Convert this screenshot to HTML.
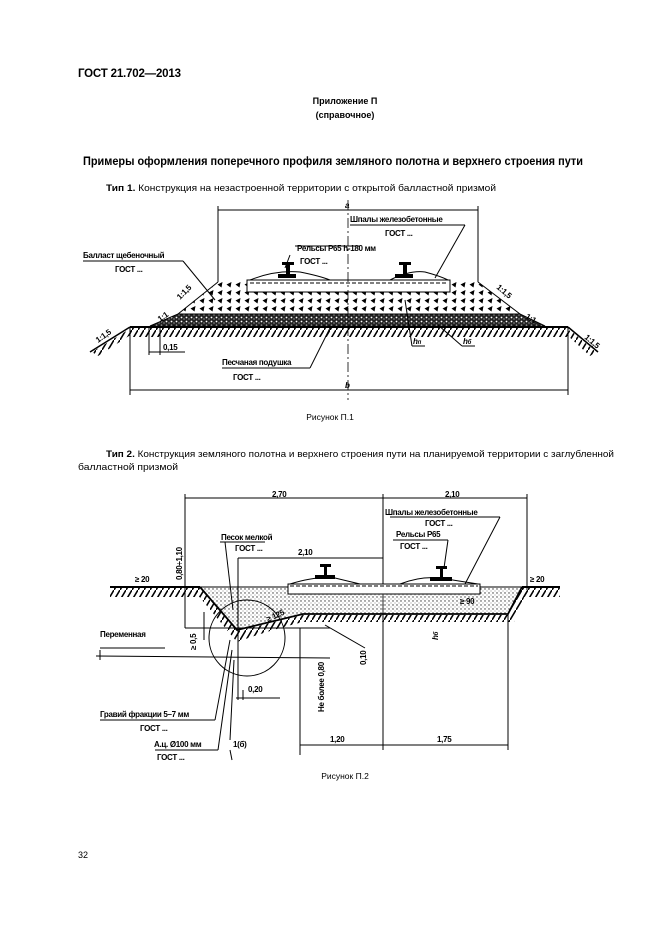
<!DOCTYPE html>
<html><head><meta charset="utf-8"><style>
html,body{margin:0;padding:0;background:#fff;}
svg{display:block;font-family:"Liberation Sans",sans-serif;}
.b{font-weight:bold;}
.s{font-size:8px;font-weight:bold;letter-spacing:-0.3px}
</style></head><body>
<svg width="661" height="936" viewBox="0 0 661 936" xmlns="http://www.w3.org/2000/svg">
<defs>
<pattern id="tri" width="9" height="8" patternUnits="userSpaceOnUse"><path d="M1.5 4.5 L6.5 2 L5.5 7.5 Z" fill="#000"/></pattern>
<pattern id="sand" width="5" height="4" patternUnits="userSpaceOnUse"><rect width="5" height="4" fill="#222"/><circle cx="1.5" cy="1.5" r="0.9" fill="#fff"/><circle cx="4" cy="3" r="0.6" fill="#ccc"/></pattern>
<pattern id="dots" width="4" height="4" patternUnits="userSpaceOnUse"><circle cx="1" cy="1" r="0.7" fill="#333"/><circle cx="3" cy="3" r="0.5" fill="#666"/></pattern>
<pattern id="hatch" width="6" height="10" patternUnits="userSpaceOnUse"><path d="M6 0 L0 10" stroke="#000" stroke-width="1.6"/></pattern>
</defs>
<text x="78" y="77" class="b" font-size="11.5" textLength="103">ГОСТ 21.702—2013</text>
<text x="345" y="104" class="b" font-size="9" text-anchor="middle">Приложение П</text>
<text x="345" y="118" class="b" font-size="9" text-anchor="middle">(справочное)</text>
<text x="83" y="165" class="b" font-size="11.5" textLength="500" lengthAdjust="spacingAndGlyphs">Примеры оформления поперечного профиля земляного полотна и верхнего строения пути</text>
<text x="106" y="191" font-size="9.5" textLength="390" lengthAdjust="spacingAndGlyphs"><tspan font-weight="bold">Тип 1.</tspan> Конструкция на незастроенной территории с открытой балластной призмой</text>

<!-- Figure 1 -->
<g stroke="#000" fill="none">
<line x1="218" y1="210" x2="478" y2="210"/>
<line x1="218" y1="206" x2="218" y2="282"/><line x1="478" y1="206" x2="478" y2="282"/>
<path d="M218 282 L478 282 L520 314 L178 314 Z" fill="url(#tri)" stroke="none"/>
<path d="M218 282 L178 314 M478 282 L520 314"/>
<path d="M178 314 L520 314 L545 326 L150 326 Z" fill="url(#sand)"/>
<rect x="130" y="327" width="438" height="10" fill="url(#hatch)" stroke="none"/>
<path d="M130 327 L568 327" stroke-width="2"/>
<path d="M130 327 L90 352" stroke-width="1.5"/><path d="M568 327 L598 352" stroke-width="1.5"/>
<path d="M128 330 L92 352 L98 356 L132 334 Z" fill="url(#hatch)" stroke="none"/>
<path d="M570 330 L596 352 L590 356 L566 334 Z" fill="url(#hatch)" stroke="none"/>
<rect x="247" y="280" width="203" height="12" fill="#fff"/>
<line x1="250" y1="283" x2="448" y2="283" stroke-dasharray="4 2"/>
<path d="M250 280 Q275 270 300 272 Q320 276 330 280 M390 280 Q410 270 425 272 Q440 276 448 280"/>
<line x1="348" y1="200" x2="348" y2="400" stroke-dasharray="10 3 2 3" stroke-width="0.8"/>
<line x1="130" y1="327" x2="130" y2="395"/><line x1="568" y1="327" x2="568" y2="395"/>
<line x1="130" y1="390" x2="568" y2="390"/>
<line x1="149" y1="328" x2="149" y2="355"/><line x1="160" y1="328" x2="160" y2="355"/>
<line x1="149" y1="352" x2="185" y2="352"/>
<line x1="83" y1="261" x2="183" y2="261"/><line x1="183" y1="261" x2="215" y2="300"/>
<line x1="295" y1="246" x2="360" y2="246"/><line x1="290" y1="255" x2="285" y2="268"/>
<line x1="350" y1="225" x2="465" y2="225"/><line x1="465" y1="225" x2="435" y2="278"/>
<line x1="222" y1="368" x2="310" y2="368"/><line x1="310" y1="368" x2="330" y2="328"/>
<line x1="412" y1="346" x2="425" y2="346"/><line x1="412" y1="346" x2="405" y2="300"/>
<line x1="462" y1="346" x2="475" y2="346"/><line x1="462" y1="346" x2="438" y2="325"/>
</g>
<g fill="#000">
<rect x="286" y="265" width="4" height="10"/><rect x="282" y="262" width="12" height="3"/><rect x="278" y="274" width="18" height="4"/>
<rect x="403" y="265" width="4" height="10"/><rect x="399" y="262" width="12" height="3"/><rect x="395" y="274" width="18" height="4"/>
</g>
<text x="345" y="208" class="s" font-style="italic">a</text>
<text x="350" y="222" class="s">Шпалы железобетонные</text><text x="385" y="236" class="s">ГОСТ ...</text>
<text x="297" y="251" class="s">Рельсы Р65 h-180 мм</text><text x="300" y="264" class="s">ГОСТ ...</text>
<text x="83" y="258" class="s">Балласт щебеночный</text><text x="115" y="272" class="s">ГОСТ ...</text>
<text x="222" y="365" class="s">Песчаная подушка</text><text x="233" y="380" class="s">ГОСТ ...</text>
<text x="163" y="350" class="s">0,15</text>
<text x="345" y="388" class="s" font-style="italic">b</text>
<text x="413" y="344" class="s" font-style="italic">h<tspan font-size="6">п</tspan></text>
<text x="463" y="344" class="s" font-style="italic">h<tspan font-size="6">б</tspan></text>
<text class="s" transform="translate(180,300) rotate(-45)">1:1,5</text>
<text class="s" transform="translate(160,322) rotate(-35)">1:1</text>
<text class="s" transform="translate(98,343) rotate(-35)">1:1,5</text>
<text class="s" transform="translate(496,288) rotate(40)">1:1,5</text>
<text class="s" transform="translate(525,318) rotate(30)">1:1</text>
<text class="s" transform="translate(584,338) rotate(40)">1:1,5</text>

<text x="330" y="420" font-size="8.5" text-anchor="middle">Рисунок П.1</text>

<text x="106" y="457" font-size="9.5" textLength="508" lengthAdjust="spacingAndGlyphs"><tspan font-weight="bold">Тип 2.</tspan> Конструкция земляного полотна и верхнего строения пути на планируемой территории с заглубленной</text>
<text x="78" y="470" font-size="9.5" textLength="100" lengthAdjust="spacingAndGlyphs">балластной призмой</text>

<!-- Figure 2 -->
<g stroke="#000" fill="none">
<line x1="185" y1="498" x2="527" y2="498"/>
<line x1="185" y1="494" x2="185" y2="628"/><line x1="383" y1="494" x2="383" y2="750"/><line x1="527" y1="494" x2="527" y2="590"/>
<path d="M200 587 L237 630 Q270 622 303 614 L508 614 L522 587 Z" fill="url(#dots)"/>
<rect x="110" y="588" width="90" height="9" fill="url(#hatch)" stroke="none"/>
<rect x="522" y="588" width="38" height="9" fill="url(#hatch)" stroke="none"/>
<path d="M200 588 L237 631 Q270 623 303 615 L508 615 L522 588 L528 588 L514 622 L303 622 Q270 630 237 642 L192 588 Z" fill="url(#hatch)" stroke="none"/>
<path d="M110 587 L200 587" stroke-width="2"/><path d="M522 587 L560 587" stroke-width="2"/>
<path d="M200 587 L237 630 Q270 622 303 614 L508 614 L522 587" stroke-width="1.8"/>
<rect x="288" y="584" width="192" height="10" fill="#fff"/>
<line x1="290" y1="586" x2="478" y2="586" stroke-dasharray="4 2"/>
<path d="M290 584 Q315 576 335 578 L360 584 M400 584 Q420 576 440 578 L478 584"/>
<circle cx="247" cy="638" r="38"/>
<line x1="238" y1="558" x2="383" y2="558"/><line x1="238" y1="558" x2="238" y2="700"/>
<line x1="185" y1="628" x2="330" y2="628"/>
<line x1="96" y1="656" x2="330" y2="658"/><line x1="100" y1="650" x2="100" y2="660"/>
<line x1="300" y1="628" x2="300" y2="755"/>
<line x1="300" y1="745" x2="508" y2="745"/><line x1="508" y1="614" x2="508" y2="750"/>
<line x1="243" y1="690" x2="243" y2="700"/><line x1="236" y1="698" x2="280" y2="698"/>
<line x1="100" y1="648" x2="165" y2="648"/>
<line x1="220" y1="542" x2="265" y2="542"/><line x1="225" y1="542" x2="233" y2="610"/>
<line x1="390" y1="517" x2="500" y2="517"/><line x1="500" y1="517" x2="465" y2="584"/>
<line x1="393" y1="540" x2="448" y2="540"/><line x1="448" y1="540" x2="444" y2="568"/>
<line x1="100" y1="720" x2="215" y2="720"/><line x1="215" y1="720" x2="230" y2="640"/>
<line x1="155" y1="750" x2="218" y2="750"/><line x1="218" y1="750" x2="232" y2="650"/>
<line x1="230" y1="750" x2="232" y2="760"/><line x1="230" y1="740" x2="234" y2="660"/>
<line x1="325" y1="625" x2="365" y2="648"/>
<line x1="204" y1="612" x2="204" y2="640"/>
</g>
<g fill="#000">
<rect x="324" y="566" width="3" height="10"/><rect x="320" y="564" width="11" height="3"/><rect x="315" y="575" width="20" height="4"/>
<rect x="440" y="568" width="3" height="10"/><rect x="436" y="566" width="11" height="3"/><rect x="430" y="577" width="22" height="4"/>
</g>
<text x="272" y="497" class="s">2,70</text><text x="445" y="497" class="s">2,10</text>
<text x="385" y="515" class="s">Шпалы железобетонные</text><text x="425" y="526" class="s">ГОСТ ...</text>
<text x="396" y="537" class="s">Рельсы Р65</text><text x="400" y="549" class="s">ГОСТ ...</text>
<text x="221" y="540" class="s">Песок мелкой</text><text x="235" y="551" class="s">ГОСТ ...</text>
<text x="298" y="555" class="s">2,10</text>
<text x="135" y="582" class="s">≥ 20</text><text x="530" y="582" class="s">≥ 20</text>
<text x="460" y="604" class="s">≥ 90</text>
<text class="s" transform="translate(268,622) rotate(-25)">≥ 125</text>
<text x="100" y="637" class="s">Переменная</text>
<text x="248" y="692" class="s">0,20</text>
<text x="100" y="717" class="s">Гравий фракции 5–7 мм</text><text x="140" y="731" class="s">ГОСТ ...</text>
<text x="154" y="747" class="s">А.ц. Ø100 мм</text><text x="157" y="760" class="s">ГОСТ ...</text>
<text x="233" y="747" class="s">1(б)</text>
<text x="330" y="742" class="s">1,20</text><text x="437" y="742" class="s">1,75</text>
<text class="s" transform="translate(182,580) rotate(-90)">0,80÷1,10</text>
<text class="s" transform="translate(196,650) rotate(-90)">≥ 0,5</text>
<text class="s" transform="translate(324,712) rotate(-90)">Не более 0,80</text>
<text class="s" transform="translate(366,665) rotate(-90)">0,10</text>
<text class="s" transform="translate(438,640) rotate(-90)" font-style="italic">h<tspan font-size="6">б</tspan></text>

<text x="345" y="779" font-size="8.5" text-anchor="middle">Рисунок П.2</text>
<text x="78" y="858" font-size="9">32</text>
</svg>
</body></html>
